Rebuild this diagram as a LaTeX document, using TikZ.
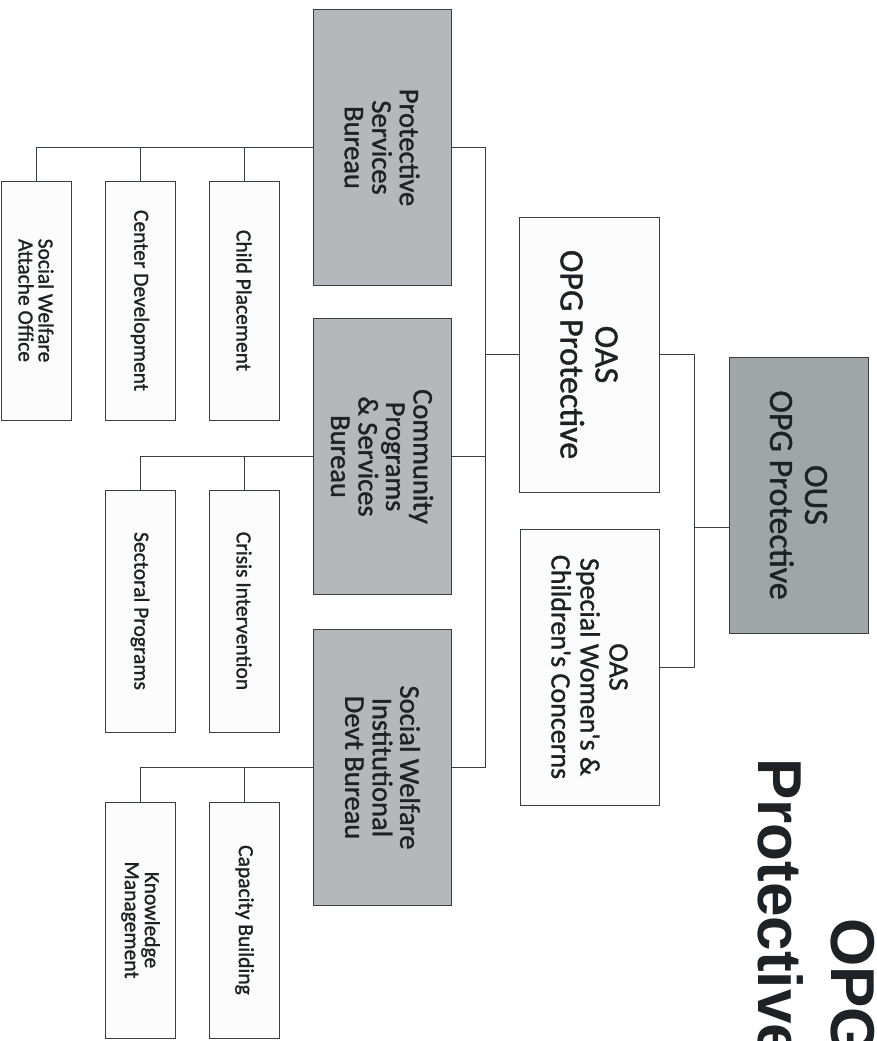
\documentclass[tikz,border=0pt]{standalone}
\usepackage{fontspec}
\setmainfont{Carlito}
\newfontface\boxfont{Carlito}[FakeBold=1.2]
\newfontfamily\titlefont{Liberation Sans}
\definecolor{linegray}{HTML}{3A3F42}
\definecolor{topfill}{HTML}{A0A5A8}
\definecolor{bureaufill}{HTML}{B4B8BB}
\definecolor{plainfill}{HTML}{FCFCFC}
\definecolor{inkgray}{HTML}{1E2224}
\tikzset{
  box/.style={draw=linegray, line width=1pt, rotate=-90, align=center,
    inner sep=0pt, text=inkgray},
  topbox/.style={box, font=\boxfont\fontsize{34}{35}\selectfont},
  bureau/.style={box, fill=bureaufill, minimum width=276pt, minimum height=138pt,
    font=\boxfont\fontsize{28.5}{27.5}\selectfont},
  unit/.style={box, fill=plainfill, minimum height=70pt,
    font=\boxfont\fontsize{21.5}{20}\selectfont},
  wire/.style={draw=linegray, line width=1pt},
  titletext/.style={rotate=-90, anchor=base west, inner sep=0pt, text=inkgray,
    font=\titlefont\bfseries\fontsize{62}{62}\selectfont}
}
\begin{document}
\begin{tikzpicture}[x=1pt,y=-1pt]
\useasboundingbox (0,0) rectangle (876,1041);
\clip (0,0) rectangle (876,1041);
\fill[white] (0,0) rectangle (876,1041);

% title, running down the right edge
\node[titletext] (tprot) at (758,758) {Protective};
\node[titletext] (topg) at (831,918) {OPG};

% top level
\node[topbox, fill=topfill, minimum width=276pt, minimum height=139pt] (ous) at (798.5,495) {OUS\\OPG Protective};
\node[topbox, fill=plainfill, minimum width=275pt, minimum height=140pt] (oasp) at (589,354.5) {OAS\\OPG Protective};
\node[box, fill=plainfill, minimum width=276pt, minimum height=139pt,
  font=\boxfont\fontsize{28}{29}\selectfont] (oasw) at (589.5,667) {OAS\\Special Women's \&\\Children's Concerns};

% bureaus
\node[bureau] (psb) at (382,147.5) {Protective\\Services\\Bureau};
\node[bureau] (cpsb) at (382,456.5) {Community\\Programs\\\& Services\\Bureau};
\node[bureau] (swidb) at (382.5,767.5) {Social Welfare\\Institutional\\Devt Bureau};

% units under the Protective Services Bureau
\node[unit, minimum width=239pt] (att) at (36,300.5) {Social Welfare\\Attache Office};
\node[unit, minimum width=239pt] (cdev) at (140,300.5) {Center Development};
\node[unit, minimum width=239pt] (cpl) at (244,300.5) {Child Placement};

% units under the Community Programs & Services Bureau
\node[unit, minimum width=242pt] (sect) at (140,611) {Sectoral Programs};
\node[unit, minimum width=242pt] (cris) at (244,611) {Crisis Intervention};

% units under the Social Welfare Institutional Devt Bureau
\node[unit, minimum width=236pt] (km) at (140.5,920) {Knowledge\\Management};
\node[unit, minimum width=236pt] (cap) at (244.5,920) {Capacity Building};

% connector bars
\coordinate (rbar) at (694,527);
\coordinate (lbar) at (485,0);

\draw[wire] (rbar) -- (rbar -| ous.south);
\draw[wire] (oasp.north) -- (oasp.north -| rbar) -- (oasw.north -| rbar) -- (oasw.north);

\draw[wire] (oasp.south) -- (oasp.south -| lbar);
\draw[wire] (psb.north) -- (psb.north -| lbar) -- (swidb.north -| lbar) -- (swidb.north);
\draw[wire] (cpsb.north) -- (cpsb.north -| lbar);

\draw[wire] (psb.south) -- (att.west |- psb.south) -- (att.west);
\draw[wire] (cdev.west) -- (cdev.west |- psb.south);
\draw[wire] (cpl.west) -- (cpl.west |- psb.south);

\draw[wire] (cpsb.south) -- (sect.west |- cpsb.south) -- (sect.west);
\draw[wire] (cris.west) -- (cris.west |- cpsb.south);

\draw[wire] (swidb.south) -- (km.west |- swidb.south) -- (km.west);
\draw[wire] (cap.west) -- (cap.west |- swidb.south);
\end{tikzpicture}
\end{document}
